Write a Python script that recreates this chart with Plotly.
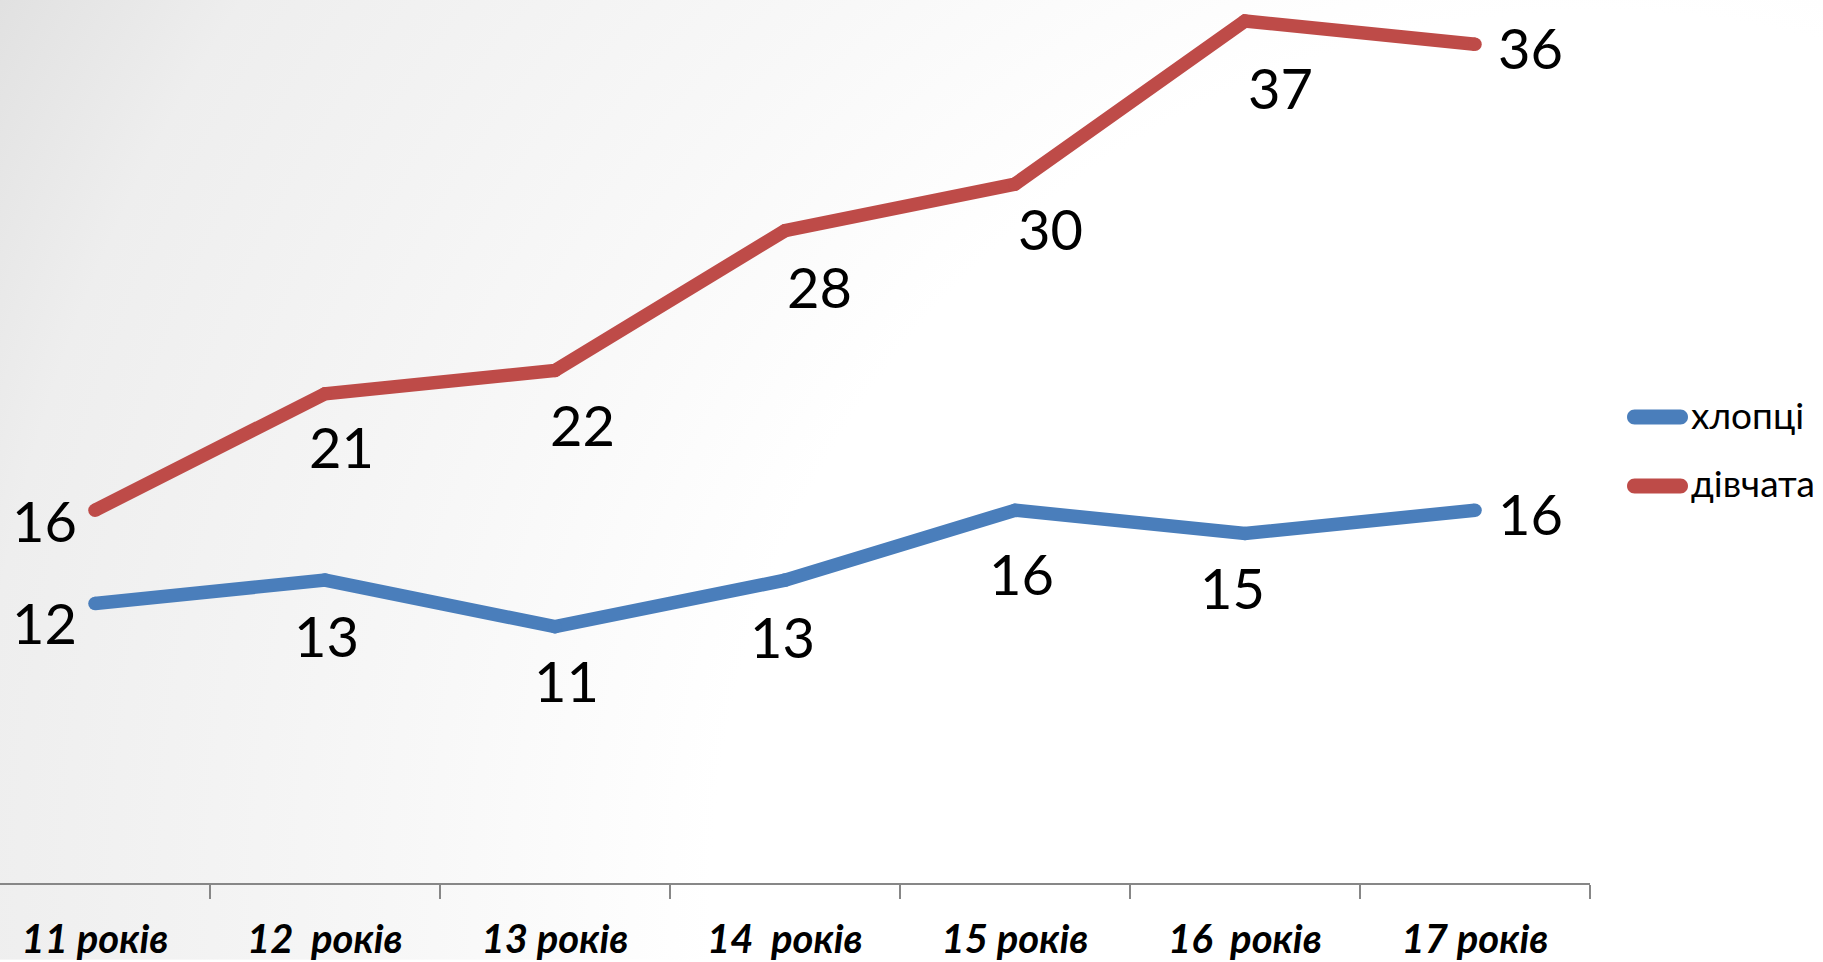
import base64
import plotly.graph_objects as go

# ---- data ----
categories = ["11 років", "12  років", "13 років", "14  років", "15 років", "16  років", "17 років"]
boys = [12, 13, 11, 13, 16, 15, 16]
girls = [16, 21, 22, 28, 30, 37, 36]
series_names = ["хлопці", "дівчата"]

# ---- styling ----
BLUE = "#4A7EBB"
RED = "#BE4B48"
LINE_W = 13.5
FIG_W, FIG_H = 1823, 962
M_L, M_R, M_T, M_B = 0, 233, 0, 77
FONT = "Lato, 'Open Sans', sans-serif"

# label offsets in px (dx right, dy down) relative to each point
boy_label_offsets = [(-50, 17), (2, 53), (12, 52), (-2, 54), (6, 61), (-13, 52), (55, 1)]
girl_label_offsets = [(-50, 8), (17, 51), (28, 52), (35, 54), (35, 42), (35, 65), (55, 1)]

cats = [c.replace("  ", "\u00a0 ") for c in categories]
plot_w = FIG_W - M_L - M_R
plot_h = FIG_H - M_T - M_B

fig = go.Figure()
colors = [BLUE, RED]
for name, vals, color in [(series_names[0], boys, BLUE), (series_names[1], girls, RED)]:
    fig.add_trace(go.Scatter(
        x=cats, y=vals, name=name, mode="lines",
        line=dict(color=color, width=LINE_W),
        legendgroup=name, showlegend=False, hoverinfo="skip",
    ))
    # round joins / caps
    fig.add_trace(go.Scatter(
        x=cats, y=vals, mode="markers", showlegend=False, name=name,
        marker=dict(color=color, size=LINE_W, line=dict(width=0)),
        legendgroup=name, cliponaxis=False, hoverinfo="skip",
    ))

label_font = dict(family=FONT, size=56, color="black")
for vals, offs in [(boys, boy_label_offsets), (girls, girl_label_offsets)]:
    for c, v, (dx, dy) in zip(cats, vals, offs):
        fig.add_annotation(x=c, y=v, text=str(v), showarrow=False,
                           xshift=dx, yshift=-dy - 2, font=label_font,
                           xanchor="center", yanchor="middle")

# ---- legend (capsule swatches + text) ----
LEG_X_PX, LEG_Y_PX, LEG_STEP = 1627, 418, 69
SW_L, SW_H = 61, 15
r = SW_H / 2
k = 0.5523 * r
L = SW_L
cap_path = (f"M{r},{-r} L{L-r},{-r} C{L-r+k},{-r} {L},{-k} {L},0 "
            f"C{L},{k} {L-r+k},{r} {L-r},{r} L{r},{r} "
            f"C{r-k},{r} 0,{k} 0,0 C0,{-k} {r-k},{-r} {r},{-r} Z")
for i, (name, color) in enumerate(zip(series_names, colors)):
    yp = LEG_Y_PX + i * LEG_STEP
    fig.add_shape(type="path", xref="paper", yref="paper",
                  xsizemode="pixel", ysizemode="pixel",
                  xanchor=LEG_X_PX / plot_w, yanchor=1 - yp / plot_h,
                  path=cap_path, fillcolor=color, line=dict(width=0))
    fig.add_annotation(xref="paper", yref="paper",
                       x=(LEG_X_PX + SW_L + 1) / plot_w, y=1 - (yp - 3) / plot_h,
                       text=name, showarrow=False, xanchor="left", yanchor="middle",
                       font=dict(family=FONT, size=37, color="black"))

# background gradient (radial, light at lower right, gray at upper left)
svg = f'''<svg xmlns="http://www.w3.org/2000/svg" width="{FIG_W}" height="{FIG_H}" viewBox="0 0 {FIG_W} {FIG_H}" preserveAspectRatio="none">
<defs><radialGradient id="g" gradientUnits="userSpaceOnUse" cx="1600" cy="900" r="1850">
<stop offset="0" stop-color="#ffffff"/>
<stop offset="0.48" stop-color="#ffffff"/>
<stop offset="0.63" stop-color="#f8f8f8"/>
<stop offset="0.75" stop-color="#f3f3f3"/>
<stop offset="0.88" stop-color="#eeeeee"/>
<stop offset="1" stop-color="#e0e0e0"/>
</radialGradient></defs>
<rect x="0" y="0" width="{FIG_W}" height="{FIG_H}" fill="url(#g)"/></svg>'''
src = "data:image/svg+xml;base64," + base64.b64encode(svg.encode()).decode()
fig.add_layout_image(dict(
    source=src, xref="paper", yref="paper",
    x=-M_L / plot_w, y=1 + M_T / plot_h,
    sizex=FIG_W / plot_w, sizey=FIG_H / plot_h,
    xanchor="left", yanchor="top", sizing="stretch", layer="below",
))

fig.update_layout(
    width=FIG_W, height=FIG_H,
    margin=dict(l=M_L, r=M_R, t=M_T, b=M_B, pad=0),
    paper_bgcolor="white", plot_bgcolor="rgba(0,0,0,0)",
    showlegend=False,
    xaxis=dict(
        type="category", range=[-0.413, 6.5],
        showline=True, linecolor="#878787", linewidth=2,
        ticks="outside", tickson="boundaries", ticklen=14, tickcolor="#878787", tickwidth=1.5,
        showgrid=False, zeroline=False, ticklabelstandoff=20,
        tickfont=dict(family=FONT, size=40, color="black", weight="bold", style="italic"),
        fixedrange=True,
    ),
    yaxis=dict(range=[0, 37.9], visible=False, fixedrange=True),
)

fig.write_html("out.html", config={"displayModeBar": False},
               post_script="document.body.style.margin='0';document.body.style.overflow='hidden';")
